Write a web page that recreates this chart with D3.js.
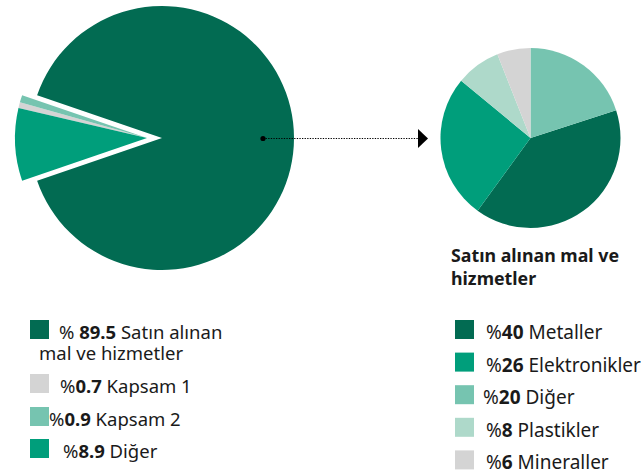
<!DOCTYPE html>
<html>
<head>
<meta charset="utf-8">
<script src="https://d3js.org/d3.v7.min.js"></script>
<style>
  body { margin: 0; background: #fff; }
  svg { display: block; font-family: "Noto Sans", sans-serif; }
  .lbl { font-size: 18.5px; fill: #1a1a1a; }
  .lbl-r { font-size: 19px; fill: #1a1a1a; }
  .title { font-size: 17.8px; font-weight: bold; fill: #1a1a1a; }
</style>
</head>
<body>
<svg id="chart" width="641" height="470"></svg>
<script>
// left pie: total emissions split
var leftLabels = ["Satın alınan", "Kapsam 1", "Kapsam 2", "Diğer"];
var leftValues = [89.5, 0.7, 0.9, 8.9];
var leftPct = ["89.5", "0.7", "0.9", "8.9"];
var leftColors = ["#026b52", "#d4d4d4", "#76c4b0", "#009e7b"];
var leftPieOrder = [3, 1, 2, 0]; // clockwise from start angle

// right pie: purchased goods and services
var rightTitle = ["Satın alınan mal ve", "hizmetler"];
var rightLabels = ["Metaller", "Elektronikler", "Diğer", "Plastikler", "Mineraller"];
var rightValues = [40, 26, 20, 8, 6];
var rightColors = ["#026b52", "#009e7b", "#76c4b0", "#aed9ca", "#d4d4d4"];
var rightPieOrder = [2, 0, 1, 3, 4];

var svg = d3.select("#chart");
var deg = Math.PI / 180;

// ---- left pie ----
var lcx = 162, lcy = 138, lr = 132;
var mainIdx = 0;
var restShare = d3.sum(leftValues) - leftValues[mainIdx];
var restAngle = restShare / d3.sum(leftValues) * 2 * Math.PI;
var lStart = 270 * deg - restAngle / 2;

var leftPie = d3.pie()
  .sort(function(a, b) { return leftPieOrder.indexOf(a.i) - leftPieOrder.indexOf(b.i); })
  .value(function(d) { return d.v; })
  .startAngle(lStart).endAngle(lStart + 2 * Math.PI);

var leftData = leftValues.map(function(v, i) { return {i: i, v: v}; });
var leftArc = d3.arc().innerRadius(0).outerRadius(lr);

var explode = 15;
var gl = svg.append("g").attr("transform", "translate(" + lcx + "," + lcy + ")");
gl.selectAll("path")
  .data(leftPie(leftData))
  .enter().append("path")
  .attr("d", leftArc)
  .attr("fill", function(d) { return leftColors[d.data.i]; })
  .attr("transform", function(d) {
    if (d.data.i === mainIdx) return null;
    return "translate(" + (-explode) + ",0)";
  });

// ---- right pie ----
var rcx = 530.5, rcy = 138, rr = 90;
var rightPie = d3.pie()
  .sort(function(a, b) { return rightPieOrder.indexOf(a.i) - rightPieOrder.indexOf(b.i); })
  .value(function(d) { return d.v; });
var rightData = rightValues.map(function(v, i) { return {i: i, v: v}; });
var rightArc = d3.arc().innerRadius(0).outerRadius(rr);

var gr = svg.append("g").attr("transform", "translate(" + rcx + "," + rcy + ")");
gr.selectAll("path")
  .data(rightPie(rightData))
  .enter().append("path")
  .attr("d", rightArc)
  .attr("fill", function(d) { return rightColors[d.data.i]; });

// ---- connector ----
svg.append("line")
  .attr("x1", 263).attr("y1", 138.5).attr("x2", 419).attr("y2", 138.5)
  .attr("stroke", "#000").attr("stroke-width", 1.2)
  .attr("stroke-dasharray", "1.3,1.3");
svg.append("circle").attr("cx", 263).attr("cy", 138.5).attr("r", 2.6).attr("fill", "#000");
svg.append("path").attr("d", "M418,129 L428,138.5 L418,148 Z").attr("fill", "#000");

// ---- left legend ----
var lTop = [320, 374, 407, 439];
var lTextX = [59, 60, 49, 63];
var ll = svg.append("g");
leftValues.forEach(function(v, i) {
  ll.append("rect").attr("x", 30).attr("y", lTop[i]).attr("width", 19).attr("height", 19)
    .attr("fill", leftColors[i]);
  var t = ll.append("text").attr("class", "lbl").attr("x", lTextX[i]).attr("y", lTop[i] + 18.5);
  if (i === 0) {
    t.append("tspan").text("% ");
    t.append("tspan").attr("font-weight", "bold").text(leftPct[i]);
    t.append("tspan").text(" " + leftLabels[i]);
    ll.append("text").attr("class", "lbl").attr("x", 39).attr("y", lTop[i] + 40)
      .text("mal ve hizmetler");
  } else {
    t.append("tspan").text("%");
    t.append("tspan").attr("font-weight", "bold").text(leftPct[i]);
    t.append("tspan").text(" " + leftLabels[i]);
  }
});

// ---- right legend ----
var rl = svg.append("g");
rightTitle.forEach(function(s, i) {
  rl.append("text").attr("class", "title").attr("x", 451).attr("y", 262 + i * 23).text(s);
});
var rStep = 32.6, rTop0 = 320;
rightValues.forEach(function(v, i) {
  var y = rTop0 + i * rStep;
  rl.append("rect").attr("x", 455).attr("y", y).attr("width", 19).attr("height", 19)
    .attr("fill", rightColors[i]);
  var t = rl.append("text").attr("class", "lbl-r").attr("x", i === 2 ? 483 : 486).attr("y", y + 19);
  t.append("tspan").text("%");
  t.append("tspan").attr("font-weight", "bold").text(v);
  t.append("tspan").text(" " + rightLabels[i]);
});
</script>
</body>
</html>
